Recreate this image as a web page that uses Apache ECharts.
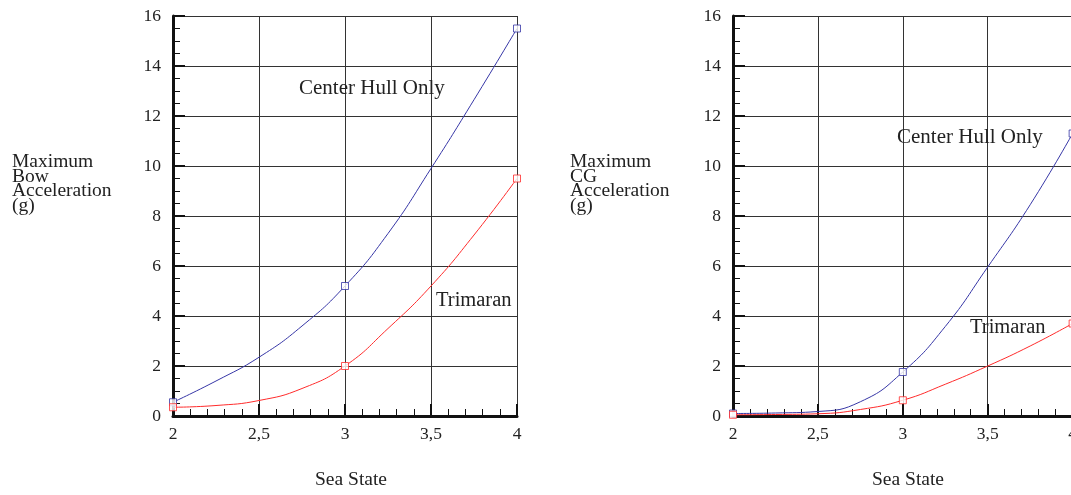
<!DOCTYPE html>
<html>
<head>
<meta charset="utf-8">
<script src="https://cdn.jsdelivr.net/npm/echarts@6/dist/echarts.min.js"></script>
<style>
html,body{margin:0;padding:0;background:#fff;overflow:hidden;width:1071px;height:495px;}
#left{position:absolute;left:0;top:0;width:535px;height:495px;}
#right{position:absolute;left:535px;top:0;width:545px;height:495px;}
</style>
</head>
<body>
<div id="left"></div><div id="right"></div>
<script>
const seaState = [2, 2.25, 2.5, 2.75, 3, 3.25, 3.5, 3.75, 4];
// Left chart: Maximum Bow Acceleration (g)
const bowCenterHull = [0.55, 1.4, 2.35, 3.6, 5.2, 7.3, 9.9, 12.65, 15.5];
const bowTrimaran   = [0.35, 0.42, 0.62, 1.1, 2.0, 3.5, 5.2, 7.24, 9.5];
// Right chart: Maximum CG Acceleration (g)
const cgCenterHull  = [0.1, 0.12, 0.18, 0.57, 1.76, 3.58, 5.96, 8.45, 11.3];
const cgTrimaran    = [0.05, 0.06, 0.09, 0.26, 0.63, 1.27, 2.0, 2.8, 3.7];
// Sea states with square markers
const markerStates = [2, 3, 4];
// Axis ranges and tick labels
const xMin = 2, xMax = 4, xStep = 0.5;
const yMin = 0, yMax = 16, yStep = 2;
// Texts
const centerLabel = 'Center Hull Only';
const trimaranLabel = 'Trimaran';
const xName = 'Sea State';
const leftYName = 'Maximum\nBow\nAcceleration\n(g)';
const rightYName = 'Maximum\nCG\nAcceleration\n(g)';

const FONT = 'Liberation Serif';
const BLUE = '#3636a6';
const RED = '#ff2b2b';
const TXT = '#222';
const TICK_SIZE = 17.5;

function pairs(vals) { return seaState.map((x, i) => [x, vals[i]]); }
function markers(vals) { return pairs(vals).filter(p => markerStates.indexOf(p[0]) >= 0); }

function xAxisDef() {
  return {
    type: 'value', min: xMin, max: xMax, interval: xStep,
    axisLabel: { fontSize: TICK_SIZE, color: TXT, fontFamily: FONT, margin: 9,
      formatter: v => String(v).replace('.', ',') },
    axisLine: { show: true, onZero: false, lineStyle: { color: '#111', width: 3 } },
    axisTick: { show: true, inside: true, length: 12, lineStyle: { color: '#111', width: 2 } },
    minorTick: { show: true, splitNumber: 5, length: 7, lineStyle: { color: '#111', width: 1 } },
    splitLine: { show: true, lineStyle: { color: '#333', width: 1 } }
  };
}
function yAxisDef() {
  return {
    type: 'value', min: yMin, max: yMax, interval: yStep,
    axisLabel: { fontSize: TICK_SIZE, color: TXT, fontFamily: FONT, margin: 12 },
    axisLine: { show: true, onZero: false, lineStyle: { color: '#111', width: 3 } },
    axisTick: { show: true, inside: true, length: 12, lineStyle: { color: '#111', width: 2 } },
    minorTick: { show: true, splitNumber: 4, length: 7, lineStyle: { color: '#111', width: 1 } },
    splitLine: { show: true, lineStyle: { color: '#333', width: 1 } }
  };
}
function lineSeries(vals, color) {
  return {
    type: 'line', data: pairs(vals), smooth: 0.5, showSymbol: false, symbol: 'none',
    lineStyle: { color: color, width: 1 }, z: 3, silent: true
  };
}
function markerSeries(vals, color) {
  return {
    type: 'scatter', data: markers(vals), symbol: 'rect', symbolSize: 7,
    itemStyle: { color: '#fff', borderColor: color, borderWidth: 1 }, z: 4, silent: true
  };
}
function txt(x, y, s, size, lh) {
  const st = { text: s, fontFamily: FONT, fontSize: size, fill: TXT };
  if (lh) st.lineHeight = lh;
  return { type: 'text', left: x, top: y, z: 10, style: st };
}
function build(el, gridLeft, gridWidth, center, trim, texts) {
  const ch = echarts.init(document.getElementById(el));
  ch.setOption({
    animation: false,
    grid: { left: gridLeft, top: 16, width: gridWidth, height: 400 },
    xAxis: xAxisDef(),
    yAxis: yAxisDef(),
    series: [lineSeries(center, BLUE), lineSeries(trim, RED), markerSeries(center, BLUE), markerSeries(trim, RED)],
    graphic: texts
  });
}
build('left', 173, 344, bowCenterHull, bowTrimaran, [
  txt(12, 152, leftYName, 19.5, 14.5),
  txt(299, 78, centerLabel, 21),
  txt(436, 290, trimaranLabel, 20.5),
  txt(315, 470, xName, 19.5)
]);
build('right', 198, 343, cgCenterHull, cgTrimaran, [
  txt(35, 152, rightYName, 19.5, 14.5),
  txt(362, 127, centerLabel, 21),
  txt(435, 317, trimaranLabel, 20.5),
  txt(337, 470, xName, 19.5)
]);
</script>
</body>
</html>
